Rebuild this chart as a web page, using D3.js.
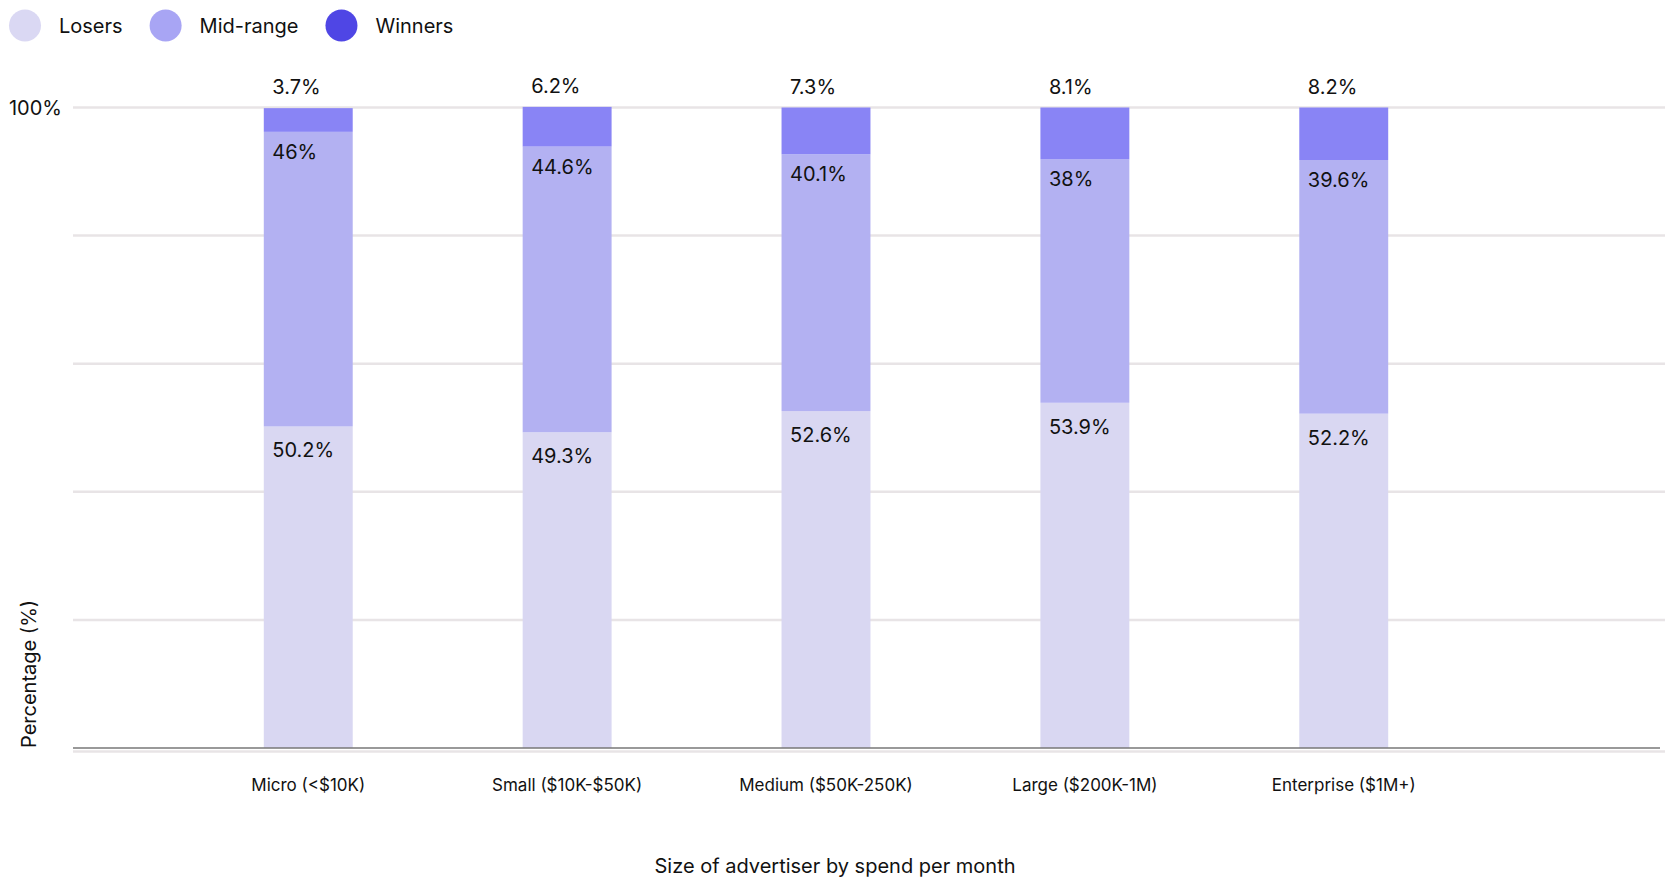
<!DOCTYPE html>
<html>
<head>
<meta charset="utf-8">
<script src="https://cdn.jsdelivr.net/npm/d3@7"></script>
<style>
  html, body { margin: 0; padding: 0; background: #ffffff; }
  svg { display: block; font-family: Inter, "Noto Sans", sans-serif; }
</style>
</head>
<body>
<svg id="chart" width="1665" height="878"></svg>
<script>
// ---- data ----
const categories = ["Micro (<$10K)", "Small ($10K-$50K)", "Medium ($50K-250K)", "Large ($200K-1M)", "Enterprise ($1M+)"];
const seriesNames = ["Losers", "Mid-range", "Winners"];
const losers = [50.2, 49.3, 52.6, 53.9, 52.2];
const midRange = [46, 44.6, 40.1, 38, 39.6];
const winners = [3.7, 6.2, 7.3, 8.1, 8.2];
const gridTicks = [0, 20, 40, 60, 80, 100];
const yTickLabels = ["100%"];
const yTickValues = [100];
const xTitle = "Size of advertiser by spend per month";
const yTitle = "Percentage (%)";

// ---- styles ----
const barColors = ["#d9d7f2", "#b3b1f2", "#8984f5"];
const legendColors = ["#dad8f3", "#a8a5f4", "#4f46e5"];

const svg = d3.select("#chart");
const plotLeft = 73, plotRight = 1665;

const rows = categories.map((c, i) => ({ cat: c, "Losers": losers[i], "Mid-range": midRange[i], "Winners": winners[i] }));
const stack = d3.stack().keys(seriesNames)(rows);

const x = d3.scaleBand().domain(categories).range([73, 1579]).paddingInner(0.6565).paddingOuter(0.737);
const y = d3.scaleLinear().domain([0, 100]).range([748, 107.5]);

// gridlines
svg.append("g").selectAll("line").data(gridTicks.filter(t => t > 0)).join("line")
  .attr("x1", plotLeft).attr("x2", plotRight)
  .attr("y1", d => y(d)).attr("y2", d => y(d))
  .attr("stroke", "#e8e4e6").attr("stroke-width", 2.5);
// baseline light line
svg.append("line").attr("x1", plotLeft).attr("x2", plotRight)
  .attr("y1", y(0) + 3.5).attr("y2", y(0) + 3.5)
  .attr("stroke", "#e8e4e6").attr("stroke-width", 2.5);

// bars
const g = svg.append("g");
stack.forEach((layer, si) => {
  g.append("g").selectAll("rect").data(layer).join("rect")
    .attr("x", d => x(d.data.cat))
    .attr("width", x.bandwidth())
    .attr("y", d => y(d[1]))
    .attr("height", d => y(d[0]) - y(d[1]))
    .attr("fill", barColors[si]);
});

// axis line
svg.append("line").attr("x1", plotLeft).attr("x2", 1660)
  .attr("y1", y(0)).attr("y2", y(0))
  .attr("stroke", "#777777").attr("stroke-width", 1.3);

// value labels
const lab = svg.append("g").attr("font-size", 20).attr("fill", "#111111");
// winners on top
lab.selectAll("text.top").data(stack[2]).join("text").attr("class", "top")
  .attr("x", d => x(d.data.cat) + 8.5)
  .attr("y", d => y(d[1]) - 14)
  .text(d => d.data["Winners"] + "%");
// mid-range & losers inside at segment top
const insideOffset = [31, 27];
[0, 1].forEach(si => {
  lab.append("g").selectAll("text").data(stack[si]).join("text")
    .attr("x", d => x(d.data.cat) + 8.5)
    .attr("y", d => y(d[1]) + insideOffset[si])
    .text(d => d.data[seriesNames[si]] + "%");
});

// y tick label
svg.append("g").selectAll("text").data(yTickValues).join("text")
  .attr("x", 62).attr("y", d => y(d)).attr("dy", "0.35em")
  .attr("text-anchor", "end").attr("font-size", 20).attr("fill", "#111")
  .text((d, i) => yTickLabels[i]);

// x axis tick labels
svg.append("g").selectAll("text").data(categories).join("text")
  .attr("x", d => x(d) + x.bandwidth() / 2)
  .attr("y", 791)
  .attr("text-anchor", "middle").attr("font-size", 17).attr("fill", "#111")
  .text(d => d);

// axis titles
svg.append("text").attr("x", 835).attr("y", 873).attr("text-anchor", "middle")
  .attr("font-size", 20).attr("fill", "#111").text(xTitle);
svg.append("text").attr("transform", "translate(36,748) rotate(-90)")
  .attr("text-anchor", "start").attr("font-size", 20).attr("fill", "#111").text(yTitle);

// legend
const leg = svg.append("g");
let lx = 9;
seriesNames.forEach((name, i) => {
  leg.append("circle").attr("cx", lx + 16).attr("cy", 25.5).attr("r", 16).attr("fill", legendColors[i]);
  const t = leg.append("text").attr("x", lx + 50).attr("y", 32.5).attr("font-size", 20).attr("fill", "#111").text(name);
  const w = t.node().getComputedTextLength();
  lx = lx + 50 + w + 27;
});
</script>
</body>
</html>
